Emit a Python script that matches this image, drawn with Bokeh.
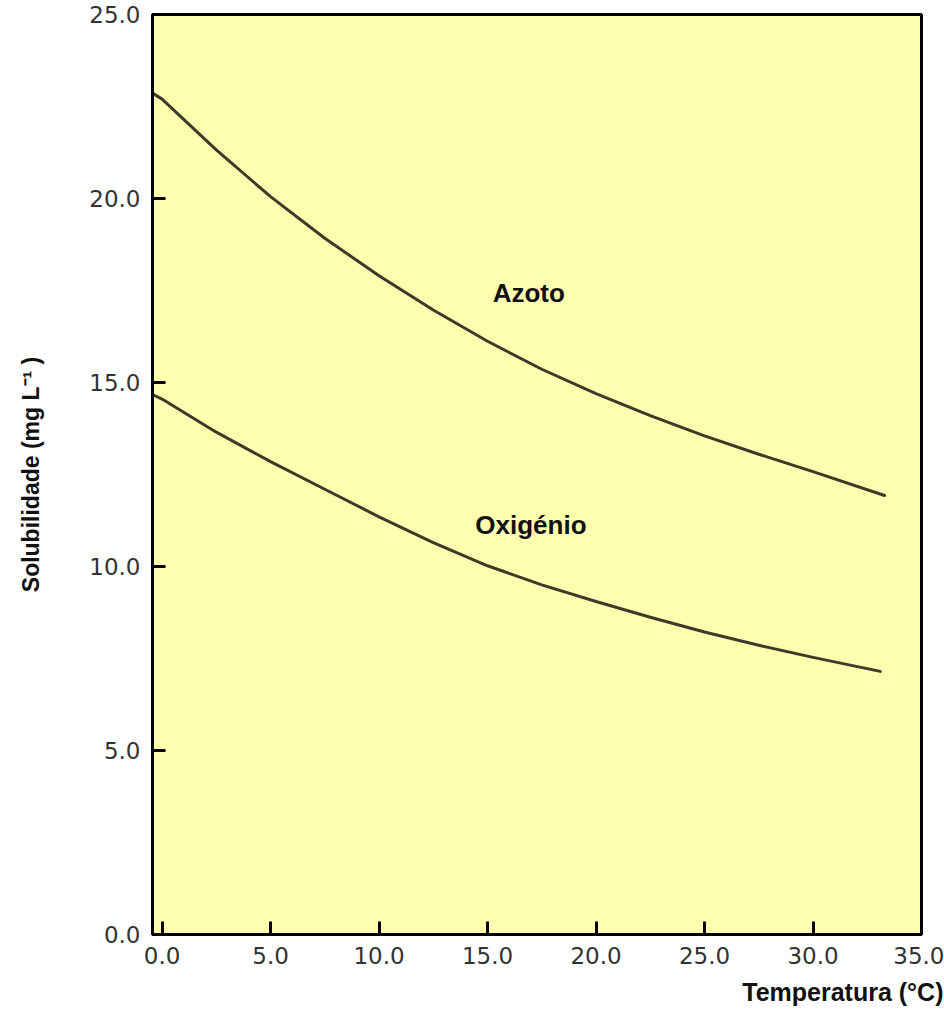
from bokeh.plotting import figure
from bokeh.models import FixedTicker, PrintfTickFormatter, Range1d, Title
from bokeh.core.properties import value
from bokeh.embed import file_html
from bokeh.resources import INLINE

# Temperature (°C)
temp = [-0.4, 0.0, 2.5, 5.0, 7.5, 10.0, 12.5, 15.0, 17.5, 20.0, 22.5, 25.0, 27.5, 30.0, 33.3]
# Nitrogen (Azoto) solubility, mg/L
azoto = [22.85, 22.70, 21.32, 20.05, 18.92, 17.90, 16.97, 16.12, 15.36, 14.70, 14.10, 13.55, 13.05, 12.58, 11.93]
# Oxygen (Oxigénio) solubility, mg/L
temp_o = [-0.4, 0.0, 2.5, 5.0, 7.5, 10.0, 12.5, 15.0, 17.5, 20.0, 22.5, 25.0, 27.5, 30.0, 33.1]
oxigenio = [14.66, 14.55, 13.65, 12.85, 12.10, 11.35, 10.65, 10.02, 9.50, 9.05, 8.62, 8.22, 7.86, 7.53, 7.15]

x_ticks = [0, 5, 10, 15, 20, 25, 30, 35]
y_ticks = [0, 5, 10, 15, 20, 25]

curve_names = ["Azoto", "Oxigénio"]

p = figure(width=944, height=1017, output_backend="svg", toolbar_location=None,
           x_range=Range1d(-0.44, 35.0), y_range=Range1d(0, 25))
p.min_border_left = 152
p.min_border_right = 23
p.min_border_top = 14
p.min_border_bottom = 83
p.background_fill_color = "#FFFFB0"
p.border_fill_color = "white"
p.outline_line_color = "black"
p.outline_line_width = 3
p.xgrid.visible = False
p.ygrid.visible = False

line_color = "#3b3b28"
p.line(temp, azoto, line_color=line_color, line_width=3, line_join="round", line_cap="round")
p.line(temp_o, oxigenio, line_color=line_color, line_width=3, line_join="round", line_cap="round")

p.text(x=[16.9], y=[17.42], text=[curve_names[0]], text_font=value("Liberation Sans"),
       text_font_style="bold", text_font_size="26px", text_align="center",
       text_baseline="middle", text_color="#111111")
p.text(x=[17.0], y=[11.14], text=[curve_names[1]], text_font=value("Liberation Sans"),
       text_font_style="bold", text_font_size="26px", text_align="center",
       text_baseline="middle", text_color="#111111")

for ax in (p.xaxis[0], p.yaxis[0]):
    ax.axis_line_color = "black"
    ax.axis_line_width = 3
    ax.major_tick_line_color = "black"
    ax.major_tick_line_width = 3
    ax.major_tick_in = 13
    ax.major_tick_out = 0
    ax.minor_tick_line_color = None
    ax.formatter = PrintfTickFormatter(format="%.1f")
    ax.major_label_text_font = "DejaVu Sans"
    ax.major_label_text_font_size = "23px"
    ax.major_label_text_color = "#333333"
    ax.major_label_standoff = 12

p.xaxis[0].ticker = FixedTicker(ticks=x_ticks)
p.yaxis[0].ticker = FixedTicker(ticks=y_ticks)

p.yaxis[0].axis_label = "Solubilidade (mg L\u207b\u00b9 )"
p.yaxis[0].axis_label_text_font = "Liberation Sans"
p.yaxis[0].axis_label_text_font_style = "bold"
p.yaxis[0].axis_label_text_font_size = "23px"
p.yaxis[0].axis_label_text_color = "#111111"
p.yaxis[0].axis_label_standoff = 42

xt = Title(text="Temperatura (\u00b0C)", align="right", offset=-22, standoff=18,
           vertical_align="bottom",
           text_font="Liberation Sans", text_font_style="bold",
           text_font_size="25px", text_color="#111111")
p.add_layout(xt, "below")

open("out.html", "w").write(file_html(p, INLINE))
